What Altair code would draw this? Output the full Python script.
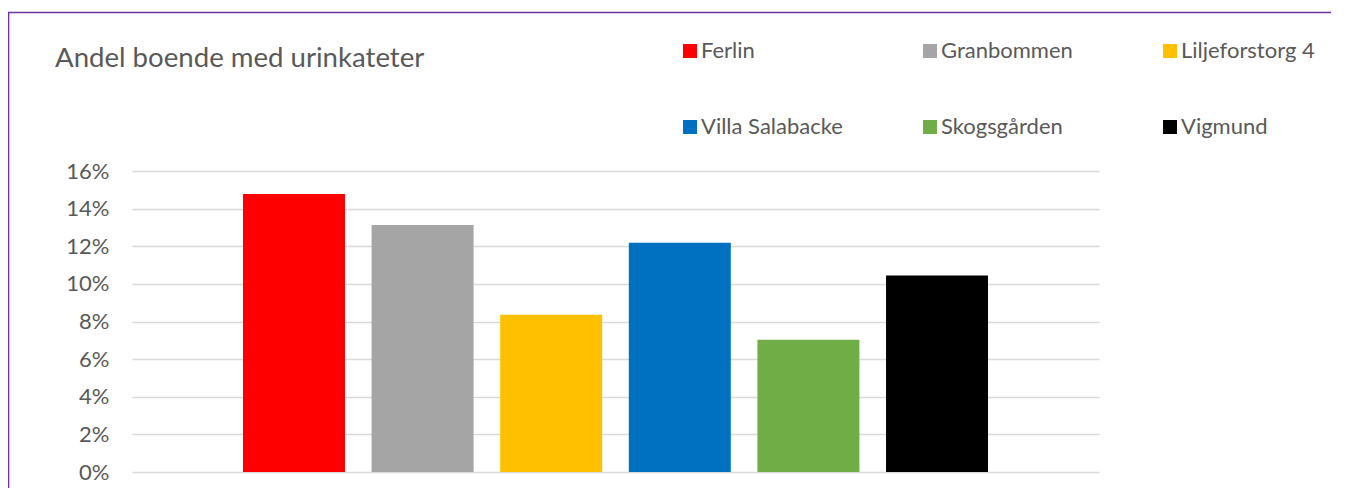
import altair as alt
import pandas as pd

names = ["Ferlin", "Granbommen", "Liljeforstorg 4", "Villa Salabacke", "Skogsgården", "Vigmund"]
values = [0.1478, 0.1313, 0.0836, 0.1218, 0.0703, 0.1044]
colors = ["#FF0000", "#A5A5A5", "#FFC000", "#0070C0", "#70AD47", "#000000"]
tick_values = [0, 0.02, 0.04, 0.06, 0.08, 0.10, 0.12, 0.14, 0.16]

FONT = "Lato"
TXT = "#595959"

df = pd.DataFrame({"name": names, "value": values})

bars = alt.Chart(df).mark_bar().encode(
    x=alt.X("name:N", sort=names,
            scale=alt.Scale(paddingInner=0.207, paddingOuter=0.863),
            axis=None),
    y=alt.Y("value:Q",
            scale=alt.Scale(domain=[0, 0.16], nice=False),
            axis=alt.Axis(format=".0%", values=tick_values, title=None,
                          domain=False, ticks=False, labelPadding=23,
                          labelFontSize=22, labelColor=TXT, labelFont=FONT,
                          gridColor="#D9D9D9", gridWidth=1.3)),
    color=alt.Color("name:N",
                    scale=alt.Scale(domain=names, range=colors),
                    legend=alt.Legend(title=None, orient="none",
                                      legendX=547, legendY=-131,
                                      columns=3, direction="horizontal",
                                      gridAlign="all",
                                      columnPadding=76, rowPadding=54,
                                      symbolType="square", symbolSize=196,
                                      symbolStrokeWidth=0, labelOffset=0,
                                      labelFontSize=22, labelColor=TXT,
                                      labelFont=FONT, padding=0)),
)

frame = alt.Chart(pd.DataFrame({"f": [0]})).mark_rect(
    fillOpacity=0, stroke="#7030A0", strokeWidth=1.6
).encode(
    x=alt.value(-123.5), x2=alt.value(1400),
    y=alt.value(-158.5), y2=alt.value(600),
)

chart = alt.layer(frame, bars).properties(
    width=967, height=301,
    padding={"left": 124, "top": 163, "right": 232, "bottom": 16},
    autosize=alt.AutoSizeParams(type="none"),
    title=alt.TitleParams("Andel boende med urinkateter", anchor="start",
                          frame="group", fontSize=27.6, font=FONT, color=TXT,
                          fontWeight="normal", dx=-77, offset=0, dy=83,
                          baseline="alphabetic"),
).configure_view(stroke=None)

chart.save("out.html", embed_options={"renderer": "svg", "actions": False})
